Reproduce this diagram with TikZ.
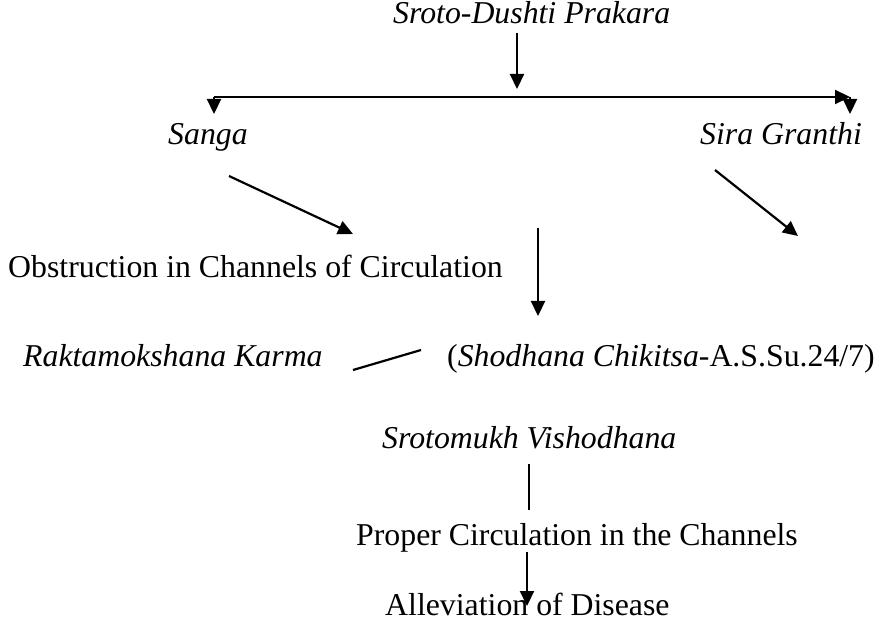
\documentclass[tikz,border=0pt]{standalone}
\usepackage{fontspec}
\setmainfont{Liberation Serif}
\usetikzlibrary{arrows.meta}
\tikzset{
  lbl/.style={inner sep=0pt, anchor=base west, font=\fontsize{31.8}{38}\selectfont},
  arr/.style={line width=2.2, -{Triangle[length=15,width=14]}},
  ln/.style={line width=2.2}
}
\begin{document}
\begin{tikzpicture}[x=1pt,y=-1pt]
			\useasboundingbox (0,0) rectangle (876,631);
			\node[lbl] (title) at (393,24) {\textit{Sroto-Dushti Prakara}};
			\node[lbl] (sanga) at (168,145) {\textit{Sanga}};
			\node[lbl] (sira) at (700,145) {\textit{Sira Granthi}};
			\node[lbl] (obstr) at (8,277) {Obstruction in Channels of Circulation};
			\node[lbl] (rakta) at (23,366) {\textit{Raktamokshana Karma}};
			\node[lbl] (shodh) at (447,366) {(\textit{Shodhana Chikitsa}-A.S.Su.24/7)};
			\node[lbl] (sroto) at (382,448) {\textit{Srotomukh Vishodhana}};
			\node[lbl] (proper) at (356,545) {Proper Circulation in the Channels};
			\node[lbl] (allev) at (385,615) {Alleviation of Disease};
			\coordinate (T) at (517,33);
			\coordinate (M) at (517,89);
			\coordinate (L) at (214,97);
			\coordinate (R) at (850,97);
			\coordinate (Ld) at (214,114);
			\coordinate (Rd) at (850,114);
			\coordinate (S1) at (229,176);
			\coordinate (S2) at (353,234);
			\coordinate (G1) at (715,170);
			\coordinate (G2) at (798,236);
			\coordinate (V1) at (538,228);
			\coordinate (V2) at (538,316);
			\coordinate (K1) at (353,370);
			\coordinate (K2) at (421,350);
			\coordinate (P1) at (529,464);
			\coordinate (P2) at (529,510);
			\coordinate (A1) at (527,552);
			\coordinate (A2) at (527,606);
			\draw[arr] (T) to (M);
			\draw[arr] (L) to (R);
			\draw[arr] (L) to (Ld);
			\draw[arr] (R) to (Rd);
			\draw[arr] (S1) to (S2);
			\draw[arr] (G1) to (G2);
			\draw[arr] (V1) to (V2);
			\draw[ln] (K1) to (K2);
			\draw[ln] (P1) to (P2);
			\draw[arr] (A1) to (A2);
		\end{tikzpicture}
\end{document}
